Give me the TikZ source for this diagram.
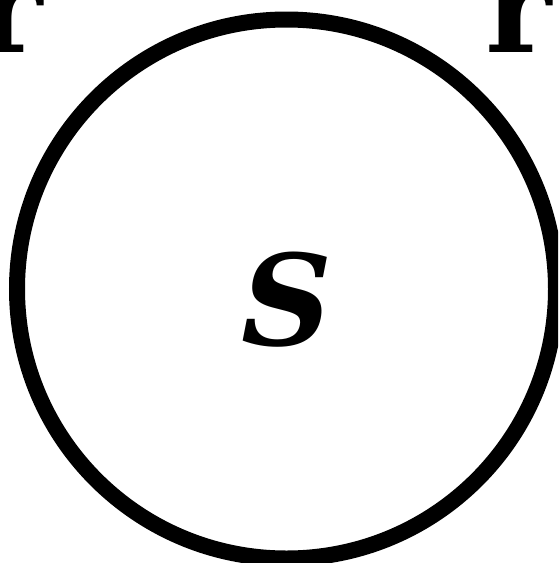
\documentclass[tikz,border=0pt]{standalone}
\usepackage{fontspec}
\setmainfont{DejaVu Serif}
\begin{document}
\begin{tikzpicture}[x=1pt,y=-1pt,
  bigletter/.style={inner sep=0pt,font=\fontsize{126}{126}\selectfont\bfseries},
  ring/.style={line width=16pt,draw=black}]
\useasboundingbox (0,0) rectangle (558,563);
\clip (0,0) rectangle (558,563);
\coordinate (c) at (286.5,289);
\draw[ring] (c) circle[radius=269.5];
\node[bigletter,anchor=base] (s) at (286.5,345) {\itshape S};
\node[bigletter,anchor=base] (r1) at (9.5,52) {r};
\node[bigletter,anchor=base] (r2) at (518.5,52) {r};
\end{tikzpicture}
\end{document}
